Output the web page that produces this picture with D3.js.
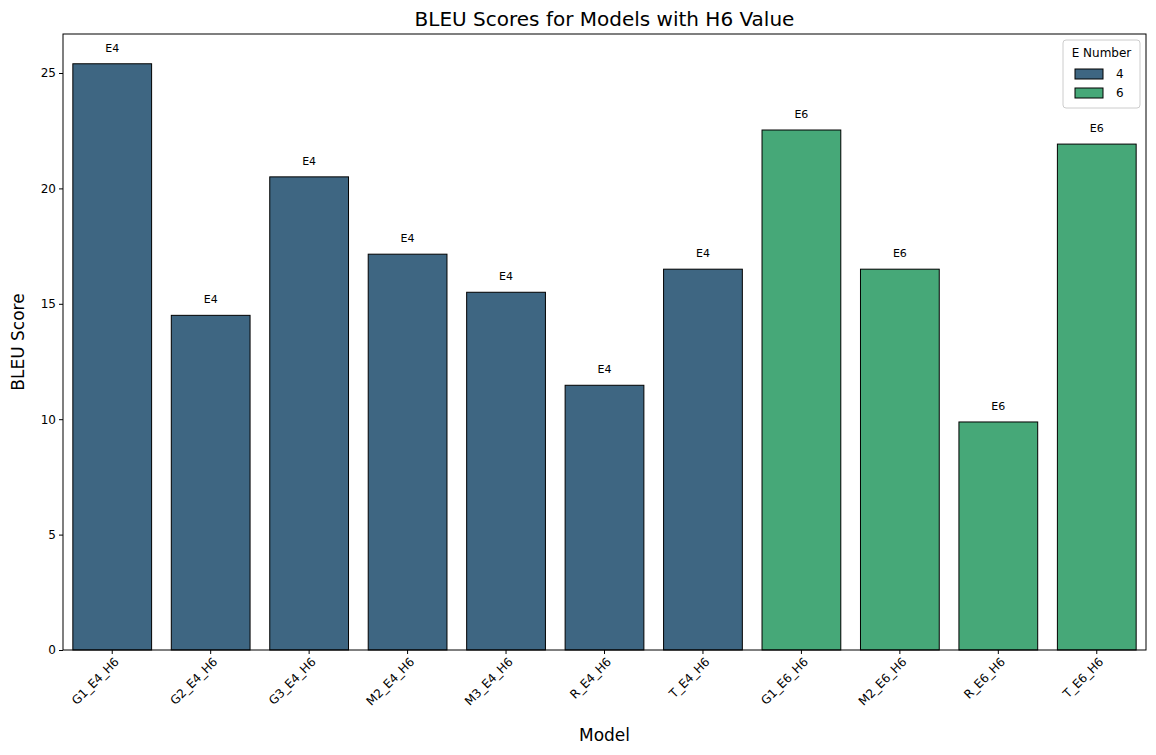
<!DOCTYPE html>
<html><head><meta charset="utf-8">
<script src="https://cdn.jsdelivr.net/npm/d3@7"></script>
<style>body{margin:0;background:#fff;font-family:"DejaVu Sans",sans-serif}</style>
</head><body><svg id="c" width="1156" height="755"></svg>
<script>
const models=["G1_E4_H6","G2_E4_H6","G3_E4_H6","M2_E4_H6","M3_E4_H6","R_E4_H6","T_E4_H6","G1_E6_H6","M2_E6_H6","R_E6_H6","T_E6_H6"];
const scores=[25.4,14.5,20.5,17.15,15.5,11.47,16.5,22.53,16.5,9.88,21.92];
const eNumbers=[4,4,4,4,4,4,4,6,6,6,6];
const yTicks=[0,5,10,15,20,25];
const legendKeys=[4,6];
const colors={4:"#3e6682",6:"#46a878"};

const svg=d3.select("#c");
const m={l:63,r:1146,t:34,b:650};
const x=d3.scaleBand().domain(models).range([m.l,m.r]).paddingInner(0.2).paddingOuter(0.1);
const y=d3.scaleLinear().domain([0,26.69]).range([m.b,m.t]);

svg.append("text").attr("x",(m.l+m.r)/2).attr("y",26).attr("text-anchor","middle").attr("font-size",20).text("BLEU Scores for Models with H6 Value");

svg.selectAll("rect.bar").data(models).enter().append("rect")
 .attr("x",d=>x(d)).attr("width",x.bandwidth())
 .attr("y",(d,i)=>y(scores[i])).attr("height",(d,i)=>y(0)-y(scores[i]))
 .attr("fill",(d,i)=>colors[eNumbers[i]]).attr("stroke","#000").attr("stroke-width",1);

svg.selectAll("text.lab").data(models).enter().append("text")
 .attr("x",d=>x(d)+x.bandwidth()/2).attr("y",(d,i)=>y(scores[i])-12)
 .attr("text-anchor","middle").attr("font-size",11).text((d,i)=>"E"+eNumbers[i]);

const ya=svg.append("g").attr("transform",`translate(${m.l},0)`).call(d3.axisLeft(y).tickValues(yTicks).tickSize(4));
ya.selectAll("text").attr("font-size",12).attr("font-family","DejaVu Sans");
ya.select(".domain").remove();
const xa=svg.append("g").attr("transform",`translate(0,${m.b})`).call(d3.axisBottom(x).tickSize(4));
xa.selectAll("text").attr("font-size",12).attr("font-family","DejaVu Sans")
 .attr("text-anchor","end").attr("dx","-0.3em").attr("dy","0.6em").attr("transform","rotate(-45)");
xa.select(".domain").remove();

svg.append("rect").attr("x",m.l).attr("y",m.t).attr("width",m.r-m.l).attr("height",m.b-m.t).attr("fill","none").attr("stroke","#000");

svg.append("text").attr("x",(m.l+m.r)/2).attr("y",741).attr("text-anchor","middle").attr("font-size",17).text("Model");
svg.append("text").attr("transform",`translate(24,${(m.t+m.b)/2}) rotate(-90)`).attr("text-anchor","middle").attr("font-size",17).text("BLEU Score");

const lg=svg.append("g").attr("transform","translate(1063,40)");
lg.append("rect").attr("width",77).attr("height",68).attr("rx",3).attr("fill","#fff").attr("stroke","#ccc");
lg.append("text").attr("x",38.5).attr("y",17).attr("text-anchor","middle").attr("font-size",12).text("E Number");
legendKeys.forEach((k,i)=>{
 lg.append("rect").attr("x",12).attr("y",29+i*19).attr("width",28).attr("height",10).attr("fill",colors[k]).attr("stroke","#000");
 lg.append("text").attr("x",53).attr("y",38+i*19).attr("font-size",12).text(k);
});
</script></body></html>
